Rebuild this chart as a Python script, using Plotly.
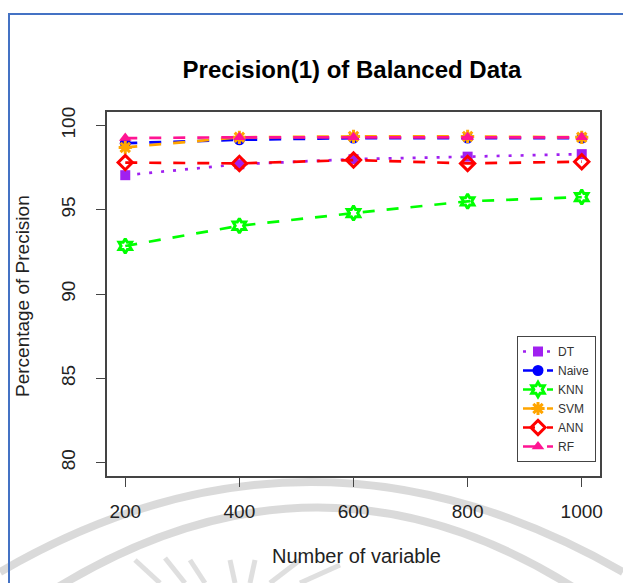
import plotly.graph_objects as go

x_vals = [200, 400, 600, 800, 1000]
dt = [97.05, 97.7, 98.0, 98.15, 98.3]
naive = [98.95, 99.15, 99.25, 99.25, 99.25]
knn = [92.85, 94.05, 94.8, 95.5, 95.75]
svm = [98.7, 99.3, 99.35, 99.35, 99.3]
ann = [97.8, 97.75, 97.95, 97.75, 97.85]
rf = [99.25, 99.3, 99.3, 99.3, 99.3]

series = [
    ("DT", dt, "#A020F0", "square", "3px,9px"),
    ("Naive", naive, "#0000FF", "circle", "12px,12px"),
    ("KNN", knn, "#00FF00", "hexagram-open", "12px,12px"),
    ("SVM", svm, "#FFA500", "asterisk-open", "12px,12px"),
    ("ANN", ann, "#FF0000", "diamond-open", "12px,12px"),
    ("RF", rf, "#FF1493", "triangle-up", "12px,12px"),
]

L, R, T, B = 107, 600, 112, 476
W, H = 623, 583

fig = go.Figure()
for name, vals, col, sym, dash in series:
    open_sym = sym.endswith("open")
    fig.add_trace(go.Scatter(
        x=x_vals, y=vals, name=name, mode="lines+markers",
        line=dict(color=col, width=2.7, dash=dash),
        marker=dict(symbol=sym, size=11 if sym != "square" else 10, color=col,
                    line=dict(color=col, width=3 if open_sym else 0)),
    ))

def px(xp):
    return (xp - L) / (R - L)

def py(yp):
    return (B - yp) / (B - T)

shapes = []
# watermark arcs
for (x0, y0, cx, cy, x1, y1) in [(0, 572, 310, 392, 623, 572), (30, 605, 320, 410, 600, 605)]:
    shapes.append(dict(type="path", xref="paper", yref="paper",
                       path=f"M {px(x0)} {py(y0)} Q {px(cx)} {py(cy)} {px(x1)} {py(y1)}",
                       line=dict(color="rgba(205,205,205,0.75)", width=8), layer="below"))
for (x0, y0, x1, y1) in [(135, 560, 160, 583), (165, 558, 185, 583), (190, 560, 205, 583),
                         (230, 560, 235, 583), (255, 560, 250, 583), (300, 560, 270, 583),
                         (340, 565, 300, 583)]:
    shapes.append(dict(type="line", xref="paper", yref="paper",
                       x0=px(x0), y0=py(y0), x1=px(x1), y1=py(y1),
                       line=dict(color="rgba(210,210,210,0.7)", width=5), layer="below"))
# blue frame
shapes.append(dict(type="line", xref="paper", yref="paper", x0=px(8), y0=py(14), x1=px(623), y1=py(14),
                   line=dict(color="#4472C4", width=2)))
shapes.append(dict(type="line", xref="paper", yref="paper", x0=px(9), y0=py(13), x1=px(9), y1=py(583),
                   line=dict(color="#4472C4", width=2)))

fig.update_layout(
    width=W, height=H,
    margin=dict(l=L, r=W - R, t=T, b=H - B),
    paper_bgcolor="white", plot_bgcolor="white",
    font=dict(family="Liberation Sans, Arial", color="#222"),
    title=dict(text="<b>Precision(1) of Balanced Data</b>", x=px(352), xref="paper", xanchor="center",
               y=1 - 70 / H, yanchor="middle", font=dict(size=24, color="black")),
    xaxis=dict(range=[168, 1032], tickvals=[200, 400, 600, 800, 1000],
               showgrid=False, zeroline=False, showline=True, mirror=True,
               linecolor="#444", linewidth=1.5, ticks="outside", ticklen=9,
               tickcolor="#444", tickfont=dict(size=19, color="#222"), ticklabelstandoff=8),
    yaxis=dict(range=[79.2, 100.8], tickvals=[80, 85, 90, 95, 100], tickangle=-90,
               showgrid=False, zeroline=False, showline=True, mirror=True,
               linecolor="#444", linewidth=1.5, ticks="outside", ticklen=9,
               tickcolor="#444", tickfont=dict(size=19, color="#222"), ticklabelstandoff=14),
    legend=dict(x=px(596), y=py(462), xanchor="right", yanchor="bottom",
                bordercolor="#444", borderwidth=1, bgcolor="white",
                font=dict(size=12, color="#333"), tracegroupgap=0, itemwidth=30),
    showlegend=True,
    shapes=shapes,
    annotations=[
        dict(text="Number of variable", xref="paper", yref="paper", x=px(356), y=py(556),
             xanchor="center", yanchor="middle", showarrow=False, font=dict(size=20, color="#222")),
        dict(text="Percentage of Precision", xref="paper", yref="paper", x=px(22), y=py(296),
             xanchor="center", yanchor="middle", textangle=-90, showarrow=False,
             font=dict(size=19, color="#222")),
    ],
)

fig.write_html("out.html")
